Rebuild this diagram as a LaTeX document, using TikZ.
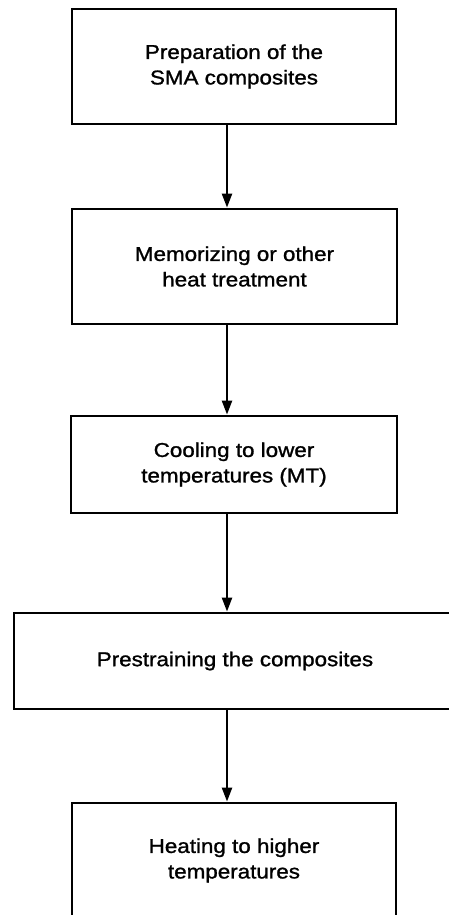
\documentclass[tikz,border=0pt]{standalone}
\usepackage{fontspec}
\setmainfont[FakeStretch=1.12,FakeBold=1.2]{Liberation Sans}
\usetikzlibrary{arrows.meta}
\tikzset{
  stepbox/.style={draw=black, line width=2.8pt, inner sep=0pt, align=center,
    font=\fontsize{20}{25.5}\selectfont},
  arr/.style={line width=2.3pt, -{Triangle[length=14pt,width=10pt]}}
}
\begin{document}
\begin{tikzpicture}[x=1pt,y=-1pt]
\useasboundingbox (0,0) rectangle (449,915);
\clip (0,0) rectangle (449,915);
\fill[white] (0,0) rectangle (449,915);
\node[stepbox, minimum width=324pt, minimum height=115pt] (b1) at (234,66.5) {Preparation of the\\SMA composites};
\node[stepbox, minimum width=325pt, minimum height=115pt] (b2) at (234.5,266.5) {Memorizing or other\\heat treatment};
\node[stepbox, minimum width=326pt, minimum height=97pt] (b3) at (234,464.5) {Cooling to lower\\temperatures (MT)};
\node[stepbox, minimum width=442pt, minimum height=96pt] (b4) at (235,661) {Prestraining the composites};
\node[stepbox, minimum width=324pt, minimum height=115pt] (b5) at (234,860.5) {Heating to higher\\temperatures};
\draw[arr] (b1.south -| 227,0) -- (b2.north -| 227,0);
\draw[arr] (b2.south -| 227,0) -- (b3.north -| 227,0);
\draw[arr] (b3.south -| 227,0) -- (b4.north -| 227,0);
\draw[arr] (b4.south -| 227,0) -- (b5.north -| 227,0);
\end{tikzpicture}
\end{document}
